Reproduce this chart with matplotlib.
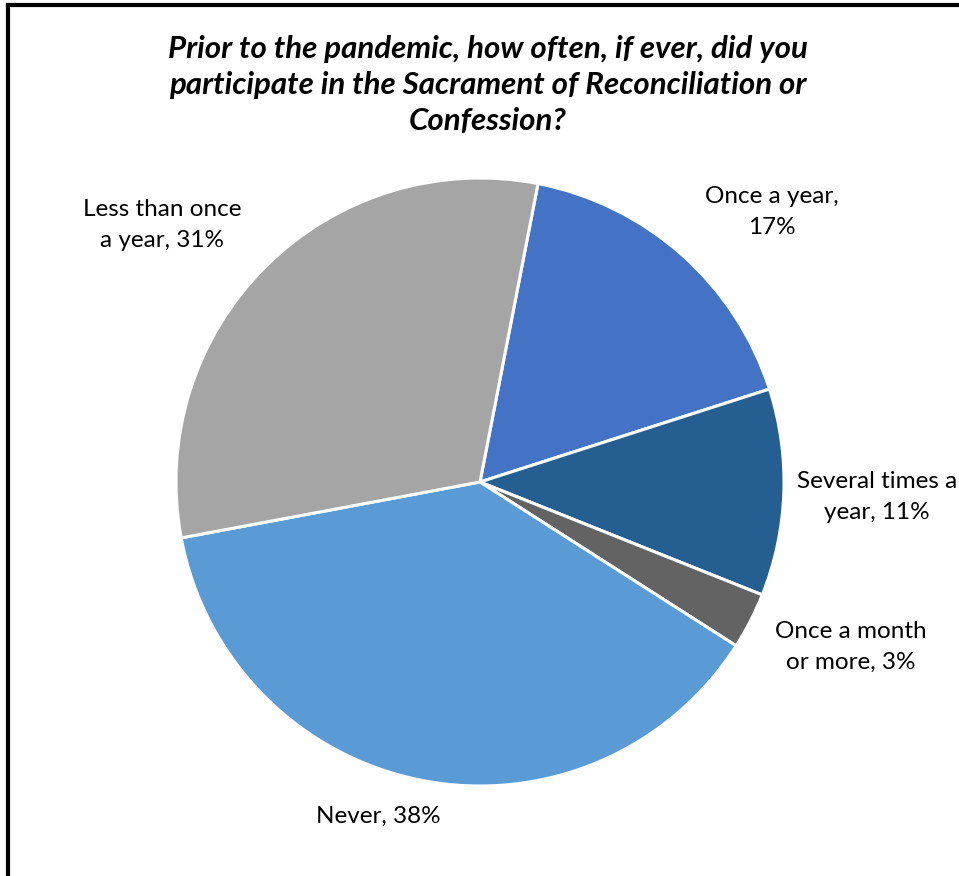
import matplotlib
matplotlib.use("Agg")
import matplotlib.pyplot as plt
from matplotlib.lines import Line2D

categories = ["Once a year", "Several times a year", "Once a month or more", "Never", "Less than once a year"]
values = [17, 11, 3, 38, 31]
labels = ["Once a year,\n17%", "Several times a\nyear, 11%", "Once a month\nor more, 3%", "Never, 38%", "Less than once\na year, 31%"]
colors = ["#4472C4", "#255E91", "#636363", "#5B9BD5", "#A5A5A5"]
title = "Prior to the pandemic, how often, if ever, did you\nparticipate in the Sacrament of Reconciliation or\nConfession?"

W, H = 959, 876
fig = plt.figure(figsize=(W / 100, H / 100), dpi=100)
plt.rcParams['font.family'] = ['Lato', 'DejaVu Sans']

cx, cy, r = 480, 482, 304
ax = fig.add_axes([(cx - r) / W, (H - cy - r) / H, 2 * r / W, 2 * r / H])
ax.pie(values, colors=colors, startangle=79, counterclock=False,
       wedgeprops=dict(edgecolor="white", linewidth=2.2))
ax.set_xlim(-1, 1)
ax.set_ylim(-1, 1)
ax.set_aspect("equal")
ax.axis("off")

# label positions (pixel centers)
label_pos = [(772, 212), (877, 497), (851, 647), (378, 816), (162, 225)]
for lab, (px, py) in zip(labels, label_pos):
    fig.text(px / W, 1 - py / H, lab, ha="center", va="center", fontsize=17.5,
             color="#000000", linespacing=1.6)

fig.text(488 / W, 1 - 85 / H, title, ha="center", va="center", fontsize=22.5,
         fontweight="bold", style="italic", linespacing=1.35)

# border (left and top visible)
fig.add_artist(Line2D([8 / W, 8 / W], [0, 1 - 5 / H], transform=fig.transFigure, color="black", linewidth=3))
fig.add_artist(Line2D([8 / W, 1], [1 - 5 / H, 1 - 5 / H], transform=fig.transFigure, color="black", linewidth=3))

fig.savefig("out.png", dpi=100)
